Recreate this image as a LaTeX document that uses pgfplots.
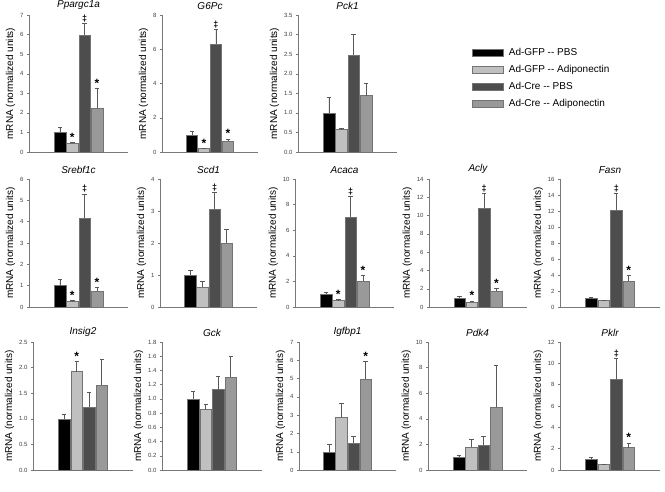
\documentclass[border=0pt]{standalone}
\usepackage{fontspec}
\setmainfont{Liberation Sans}
\usepackage{pgfplots}
\pgfplotsset{compat=1.18}
\definecolor{cA}{RGB}{0,0,0}
\definecolor{cB}{RGB}{192,192,192}
\definecolor{cC}{RGB}{77,77,77}
\definecolor{cD}{RGB}{153,153,153}
\definecolor{axgray}{RGB}{120,120,120}

\tikzset{
  sig/.style={anchor=south, inner sep=0.5pt, font=\fontsize{12}{12}\selectfont\bfseries},
  dg/.style={anchor=south, inner sep=0.5pt, font=\fontsize{9}{9}\selectfont\bfseries},
}
\pgfplotsset{
  panel/.style={
    scale only axis, anchor=south west,
    xmin=-1.5, xmax=6.5, ymin=0,
    axis lines*=left, axis line style={axgray, line width=0.6pt},
    xtick=\empty,
    tick align=outside, major tick length=2pt,
    ytick style={axgray, line width=0.4pt},
    tick label style={font=\fontsize{6}{6}\selectfont, text=black!75},
    /pgf/number format/assume math mode=true,
    ylabel={mRNA (normalized units)},
    ylabel style={font=\fontsize{10}{12}\selectfont, yshift=-2pt},
    title style={font=\fontsize{10}{12}\selectfont\itshape, yshift=-4pt},
    clip=false,
  },
  dec/.style={yticklabel style={/pgf/number format/.cd, fixed, fixed zerofill, precision=1}},
  b/.style={ybar, bar shift=0pt, bar width=0.95, fill=#1, draw=black!55, line width=0.4pt,
    legend image code/.code={\draw[fill=#1, draw=black!55, line width=0.4pt] (0pt,-3.5pt) rectangle (31pt,3.5pt);},
    error bars/.cd, y dir=plus, y explicit,
    error bar style={black!65, line width=0.6pt},
    error mark options={rotate=90, black!65, line width=0.6pt, mark size=2.2pt}},
}

\begin{document}
\begin{tikzpicture}[x=1pt, y=1pt]
\path[use as bounding box] (0,0) rectangle (665,491);

% ---------------- row 1 ----------------
\begin{axis}[panel, at={(29pt,339pt)}, width=99pt, height=137pt,
  title={Ppargc1a}, ymax=7, ytick={0,1,...,7}]
\addplot[b=cA] coordinates {(1,1.00) +- (0,0.25)};
\addplot[b=cB] coordinates {(2,0.45) +- (0,0.05)};
\addplot[b=cC] coordinates {(3,5.97) +- (0,0.62)};
\addplot[b=cD] coordinates {(4,2.23) +- (0,1.00)};
\node[sig] at (axis cs:2,0.52) {*};
\node[dg] at (axis cs:3,6.62) {‡};
\node[sig] at (axis cs:4,3.25) {*};
\end{axis}

\begin{axis}[panel, at={(162pt,339pt)}, width=96pt, height=137pt,
  title={G6Pc}, ymax=8, ytick={0,2,...,8}]
\addplot[b=cA] coordinates {(1,1.00) +- (0,0.22)};
\addplot[b=cB] coordinates {(2,0.20) +- (0,0.03)};
\addplot[b=cC] coordinates {(3,6.32) +- (0,0.85)};
\addplot[b=cD] coordinates {(4,0.65) +- (0,0.12)};
\node[sig] at (axis cs:2,0.25) {*};
\node[dg] at (axis cs:3,7.2) {‡};
\node[sig] at (axis cs:4,0.80) {*};
\end{axis}

\begin{axis}[panel, dec, at={(298pt,339pt)}, width=99pt, height=137pt,
  title={Pck1}, ymax=3.5, ytick={0,0.5,...,3.5},
  legend style={at={(1.76,0.77)}, anchor=north west, draw=none, fill=none,
    inner sep=0pt, row sep=4pt, font=\fontsize{10}{12}\selectfont,
    nodes={inner xsep=5pt}},
  legend cell align=left]
\addplot[b=cA] coordinates {(1,1.00) +- (0,0.41)};
\addplot[b=cB] coordinates {(2,0.57) +- (0,0.04)};
\addplot[b=cC] coordinates {(3,2.48) +- (0,0.52)};
\addplot[b=cD] coordinates {(4,1.44) +- (0,0.31)};
\legend{Ad-GFP -{}- PBS, Ad-GFP -{}- Adiponectin, Ad-Cre -{}- PBS, Ad-Cre -{}- Adiponectin}
\end{axis}

% ---------------- row 2 ----------------
\begin{axis}[panel, at={(29pt,184pt)}, width=99pt, height=128pt,
  title={Srebf1c}, ymax=6, ytick={0,1,...,6}]
\addplot[b=cA] coordinates {(1,1.00) +- (0,0.30)};
\addplot[b=cB] coordinates {(2,0.25) +- (0,0.05)};
\addplot[b=cC] coordinates {(3,4.15) +- (0,1.15)};
\addplot[b=cD] coordinates {(4,0.75) +- (0,0.18)};
\node[sig] at (axis cs:2,0.32) {*};
\node[dg] at (axis cs:3,5.35) {‡};
\node[sig] at (axis cs:4,0.95) {*};
\end{axis}

\begin{axis}[panel, at={(160pt,184pt)}, width=97pt, height=128pt,
  title={Scd1}, ymax=4, ytick={0,1,...,4}]
\addplot[b=cA] coordinates {(1,1.00) +- (0,0.16)};
\addplot[b=cB] coordinates {(2,0.63) +- (0,0.17)};
\addplot[b=cC] coordinates {(3,3.05) +- (0,0.52)};
\addplot[b=cD] coordinates {(4,2.00) +- (0,0.43)};
\node[dg] at (axis cs:3,3.6) {‡};
\end{axis}

\begin{axis}[panel, at={(295pt,184pt)}, width=99pt, height=128pt,
  title={Acaca}, ymax=10, ytick={0,2,...,10}]
\addplot[b=cA] coordinates {(1,1.00) +- (0,0.17)};
\addplot[b=cB] coordinates {(2,0.50) +- (0,0.07)};
\addplot[b=cC] coordinates {(3,7.05) +- (0,1.60)};
\addplot[b=cD] coordinates {(4,2.00) +- (0,0.45)};
\node[sig] at (axis cs:2,0.6) {*};
\node[dg] at (axis cs:3,8.7) {‡};
\node[sig] at (axis cs:4,2.5) {*};
\end{axis}

\begin{axis}[panel, at={(429pt,184pt)}, width=98pt, height=128pt,
  title={Acly}, ymax=14, ytick={0,2,...,14}]
\addplot[b=cA] coordinates {(1,1.00) +- (0,0.15)};
\addplot[b=cB] coordinates {(2,0.55) +- (0,0.08)};
\addplot[b=cC] coordinates {(3,10.85) +- (0,1.60)};
\addplot[b=cD] coordinates {(4,1.70) +- (0,0.35)};
\node[sig] at (axis cs:2,0.7) {*};
\node[dg] at (axis cs:3,12.5) {‡};
\node[sig] at (axis cs:4,2.1) {*};
\end{axis}

\begin{axis}[panel, at={(560pt,184pt)}, width=100pt, height=128pt,
  title={Fasn}, ymax=16, ytick={0,2,...,16}]
\addplot[b=cA] coordinates {(1,1.05) +- (0,0.15)};
\addplot[b=cB] coordinates {(2,0.80) +- (0,0.07)};
\addplot[b=cC] coordinates {(3,12.10) +- (0,2.10)};
\addplot[b=cD] coordinates {(4,3.20) +- (0,0.75)};
\node[dg] at (axis cs:3,14.3) {‡};
\node[sig] at (axis cs:4,4.0) {*};
\end{axis}

% ---------------- row 3 ----------------
\begin{axis}[panel, dec, at={(33pt,21pt)}, width=100pt, height=128pt,
  title={Insig2}, ymax=2.5, ytick={0,0.5,...,2.5}]
\addplot[b=cA] coordinates {(1,1.00) +- (0,0.09)};
\addplot[b=cB] coordinates {(2,1.92) +- (0,0.20)};
\addplot[b=cC] coordinates {(3,1.23) +- (0,0.28)};
\addplot[b=cD] coordinates {(4,1.66) +- (0,0.51)};
\node[sig] at (axis cs:2,2.13) {*};
\end{axis}

\begin{axis}[panel, dec, at={(162pt,21pt)}, width=100pt, height=128pt,
  title={Gck}, ymax=1.8, ytick={0,0.2,...,1.8}]
\addplot[b=cA] coordinates {(1,1.00) +- (0,0.10)};
\addplot[b=cB] coordinates {(2,0.85) +- (0,0.08)};
\addplot[b=cC] coordinates {(3,1.13) +- (0,0.19)};
\addplot[b=cD] coordinates {(4,1.31) +- (0,0.29)};
\end{axis}

\begin{axis}[panel, at={(299pt,21pt)}, width=97pt, height=128pt,
  title={Igfbp1}, ymax=7, ytick={0,1,...,7}]
\addplot[b=cA] coordinates {(1,1.00) +- (0,0.40)};
\addplot[b=cB] coordinates {(2,2.88) +- (0,0.75)};
\addplot[b=cC] coordinates {(3,1.48) +- (0,0.34)};
\addplot[b=cD] coordinates {(4,4.97) +- (0,0.95)};
\node[sig] at (axis cs:4,5.95) {*};
\end{axis}

\begin{axis}[panel, at={(428pt,21pt)}, width=99pt, height=128pt,
  title={Pdk4}, ymax=10, ytick={0,2,...,10}]
\addplot[b=cA] coordinates {(1,1.00) +- (0,0.12)};
\addplot[b=cB] coordinates {(2,1.80) +- (0,0.60)};
\addplot[b=cC] coordinates {(3,1.95) +- (0,0.70)};
\addplot[b=cD] coordinates {(4,4.90) +- (0,3.30)};
\end{axis}

\begin{axis}[panel, at={(560pt,21pt)}, width=100pt, height=128pt,
  title={Pklr}, ymax=12, ytick={0,2,...,12}]
\addplot[b=cA] coordinates {(1,1.00) +- (0,0.20)};
\addplot[b=cB] coordinates {(2,0.52) +- (0,0.05)};
\addplot[b=cC] coordinates {(3,8.50) +- (0,1.95)};
\addplot[b=cD] coordinates {(4,2.10) +- (0,0.45)};
\node[dg] at (axis cs:3,10.5) {‡};
\node[sig] at (axis cs:4,2.6) {*};
\end{axis}
\end{tikzpicture}
\end{document}
